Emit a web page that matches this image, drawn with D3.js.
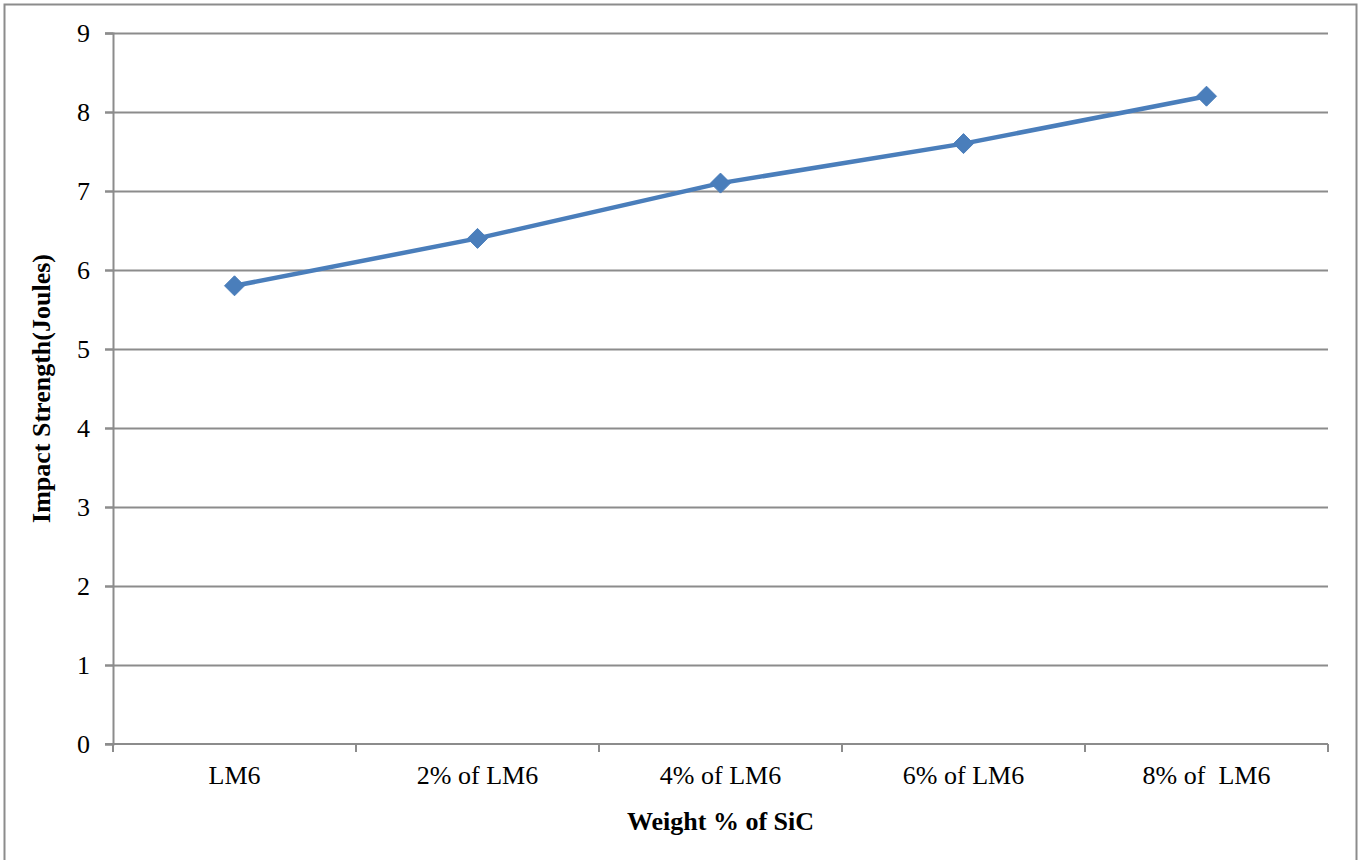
<!DOCTYPE html>
<html>
<head>
<meta charset="utf-8">
<script src="https://cdn.jsdelivr.net/npm/d3@7/dist/d3.min.js"></script>
<style>
  html, body { margin: 0; padding: 0; background: #fff; }
  svg { display: block; }
  text { font-family: "Liberation Serif", "Times New Roman", serif; fill: #000; white-space: pre; }
</style>
</head>
<body>
<div id="chart"></div>
<script>
// Impact strength of LM6 with increasing SiC content
const categories = ["LM6", "2% of LM6", "4% of LM6", "6% of LM6", "8% of  LM6"];
const impactValues = [5.8, 6.4, 7.1, 7.6, 8.2];
const yTicks = [0, 1, 2, 3, 4, 5, 6, 7, 8, 9];
const xTitle = "Weight % of SiC";
const yTitle = "Impact Strength(Joules)";

const W = 1363, H = 860;
const margin = { left: 113, right: 35, top: 33, bottom: 116 };

const svg = d3.select("#chart").append("svg")
  .attr("width", W).attr("height", H);

// outer frame
svg.append("rect")
  .attr("x", 4.5).attr("y", 4.5)
  .attr("width", 1352).attr("height", 880)
  .attr("fill", "none").attr("stroke", "#8c8c8c").attr("stroke-width", 2);

const x = d3.scaleBand().domain(categories)
  .range([margin.left, W - margin.right]).padding(0);
const y = d3.scaleLinear().domain([0, 9])
  .range([H - margin.bottom, margin.top]);

const gridColor = "#8c8c8c";
const fontSize = 26;

// horizontal gridlines with outward tick marks
svg.append("g").selectAll("line").data(yTicks.filter(d => d > 0)).join("line")
  .attr("x1", margin.left - 8).attr("x2", W - margin.right)
  .attr("y1", d => Math.round(y(d)) + 0.5).attr("y2", d => Math.round(y(d)) + 0.5)
  .attr("stroke", gridColor).attr("stroke-width", 2);

// y axis
const yAxis = svg.append("g")
  .attr("transform", `translate(${margin.left},0)`)
  .call(d3.axisLeft(y).tickValues(yTicks).tickSize(8).tickPadding(15));
yAxis.selectAll("path, line").attr("stroke", gridColor).attr("stroke-width", 2);
yAxis.selectAll("text").attr("font-size", fontSize)
  .style("font-family", "'Liberation Serif', serif").attr("fill", "#000");

// x axis with boundary ticks between categories
const xAxisY = y(0);
const xg = svg.append("g");
xg.append("line")
  .attr("x1", margin.left - 8).attr("x2", W - margin.right)
  .attr("y1", xAxisY).attr("y2", xAxisY)
  .attr("stroke", gridColor).attr("stroke-width", 2);
const bounds = categories.map(c => x(c)).concat([x(categories[categories.length - 1]) + x.bandwidth()]);
xg.selectAll("line.tk").data(bounds).join("line").attr("class", "tk")
  .attr("x1", d => d).attr("x2", d => d)
  .attr("y1", xAxisY).attr("y2", xAxisY + 8)
  .attr("stroke", gridColor).attr("stroke-width", 2);
xg.selectAll("text").data(categories).join("text")
  .attr("x", d => x(d) + x.bandwidth() / 2)
  .attr("y", xAxisY + 40)
  .attr("text-anchor", "middle").attr("font-size", fontSize)
  .text(d => d);

// series line
const pts = categories.map((c, i) => ({ c, v: impactValues[i] }));
svg.append("path").datum(pts)
  .attr("fill", "none").attr("stroke", "#4a7ebb").attr("stroke-width", 4.5)
  .attr("stroke-linejoin", "round")
  .attr("d", d3.line().x(d => x(d.c) + x.bandwidth() / 2).y(d => y(d.v)));

// diamond markers
svg.append("g").selectAll("path").data(pts).join("path")
  .attr("transform", d => `translate(${x(d.c) + x.bandwidth() / 2},${y(d.v)})`)
  .attr("d", "M0,-10L10,0L0,10L-10,0Z")
  .attr("fill", "#4a7ebb").attr("stroke", "#4a7ebb").attr("stroke-width", 1);

// axis titles
svg.append("text")
  .attr("x", (margin.left + W - margin.right) / 2)
  .attr("y", 830)
  .attr("text-anchor", "middle").attr("font-size", fontSize).attr("font-weight", "bold")
  .text(xTitle);

svg.append("text")
  .attr("transform", `translate(50,${(margin.top + y(0)) / 2}) rotate(-90)`)
  .attr("text-anchor", "middle").attr("font-size", fontSize).attr("font-weight", "bold")
  .text(yTitle);
</script>
</body>
</html>
